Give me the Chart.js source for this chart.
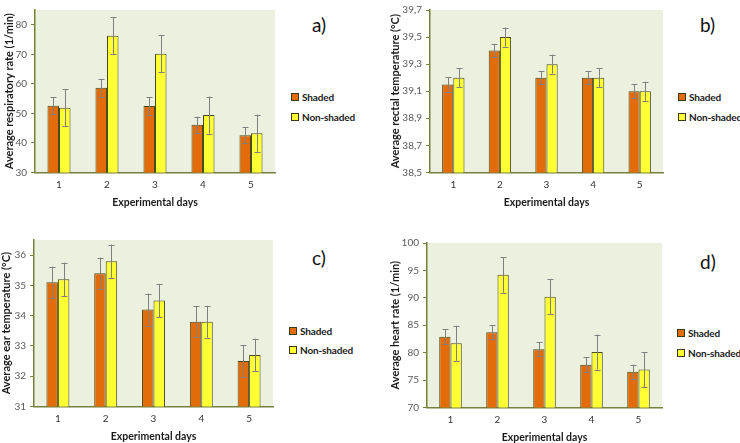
<!DOCTYPE html>
<html>
<head>
<meta charset="utf-8">
<script src="https://cdn.jsdelivr.net/npm/chart.js@4"></script>
<style>
  body { margin: 0; width: 740px; height: 443px; background: #fff; position: relative; overflow: hidden; font-family: Lato, "Liberation Sans", sans-serif; }
  canvas { position: absolute; }
  .legend { position: absolute; font-size: 10px; font-weight: bold; color: #1a1a1a; letter-spacing: -0.15px; }
  .legend div { position: absolute; white-space: nowrap; line-height: 14px; }
  .legend span { display: inline-block; width: 6px; height: 6px; border: 1px solid #3a3a1a; margin-right: 3px; vertical-align: 0px; }
  .tag { position: absolute; font-size: 19px; color: #111; line-height: 20px; }
</style>
</head>
<body>
<canvas id="chartA" width="280" height="211" style="left:0px;top:0px"></canvas>
<canvas id="chartB" width="283" height="211" style="left:385px;top:0px"></canvas>
<canvas id="chartC" width="278" height="220" style="left:0px;top:225px"></canvas>
<canvas id="chartD" width="282" height="222" style="left:385px;top:224px"></canvas>

<div class="tag" style="left:312px;top:15px">a)</div>
<div class="tag" style="left:700px;top:15px">b)</div>
<div class="tag" style="left:312px;top:248px">c)</div>
<div class="tag" style="left:700px;top:252px">d)</div>

<div class="legend" style="left:291px;top:90px"><div style="top:0"><span style="background:#e36c0a"></span>Shaded</div><div style="top:20px"><span style="background:#ffff33"></span>Non-shaded</div></div>
<div class="legend" style="left:678px;top:90px"><div style="top:0"><span style="background:#e36c0a"></span>Shaded</div><div style="top:20px"><span style="background:#ffff33"></span>Non-shaded</div></div>
<div class="legend" style="left:289px;top:324px"><div style="top:0"><span style="background:#e36c0a"></span>Shaded</div><div style="top:19px"><span style="background:#ffff33"></span>Non-shaded</div></div>
<div class="legend" style="left:677px;top:326px"><div style="top:0"><span style="background:#e36c0a"></span>Shaded</div><div style="top:20px"><span style="background:#ffff33"></span>Non-shaded</div></div>

<script>
// Data
const days = ['1', '2', '3', '4', '5'];

const respShaded = [52.6, 58.7, 52.5, 46.1, 42.6];
const respShadedErr = [2.9, 3.0, 2.9, 2.8, 2.8];
const respNonShaded = [51.9, 76.3, 70.2, 49.4, 43.3];
const respNonShadedErr = [6.3, 6.3, 6.3, 6.3, 6.3];

const rectalShaded = [39.15, 39.40, 39.20, 39.20, 39.10];
const rectalShadedErr = [0.055, 0.05, 0.05, 0.05, 0.05];
const rectalNonShaded = [39.20, 39.50, 39.30, 39.20, 39.10];
const rectalNonShadedErr = [0.07, 0.07, 0.07, 0.07, 0.07];

const earShaded = [35.1, 35.4, 34.2, 33.8, 32.5];
const earShadedErr = [0.52, 0.52, 0.53, 0.52, 0.52];
const earNonShaded = [35.2, 35.8, 34.5, 33.8, 32.7];
const earNonShadedErr = [0.55, 0.55, 0.55, 0.53, 0.54];

const heartShaded = [82.9, 83.7, 80.6, 77.8, 76.5];
const heartShadedErr = [1.35, 1.3, 1.3, 1.35, 1.3];
const heartNonShaded = [81.7, 94.2, 90.2, 80.1, 76.9];
const heartNonShadedErr = [3.2, 3.25, 3.2, 3.2, 3.2];

const axisColor = '#77803f';
const tickColor = '#595959';
const fontFamily = 'Lato, "Liberation Sans", sans-serif';

// plot area fill
const plotBg = {
    id: 'plotBg',
    beforeDraw(chart) {
        const a = chart.chartArea;
        const ctx = chart.ctx;
        ctx.save();
        ctx.fillStyle = '#ebf1de';
        ctx.fillRect(a.left, a.top, a.right - a.left, a.bottom - a.top);
        ctx.restore();
    }
};

// error bars
const errorBars = {
    id: 'errorBars',
    afterDatasetsDraw(chart) {
        const ctx = chart.ctx;
        const y = chart.scales.y;
        ctx.save();
        ctx.strokeStyle = '#808080';
        ctx.lineWidth = 1;
        chart.data.datasets.forEach((ds, i) => {
            const meta = chart.getDatasetMeta(i);
            meta.data.forEach((bar, j) => {
                const v = ds.data[j], e = ds.errors[j];
                const top = y.getPixelForValue(v + e);
                const bot = y.getPixelForValue(v - e);
                const x = Math.round(bar.x) + 0.5;
                ctx.beginPath();
                ctx.moveTo(x, top); ctx.lineTo(x, bot);
                ctx.moveTo(x - 3, Math.round(top) + 0.5); ctx.lineTo(x + 3, Math.round(top) + 0.5);
                ctx.moveTo(x - 3, Math.round(bot) + 0.5); ctx.lineTo(x + 3, Math.round(bot) + 0.5);
                ctx.stroke();
            });
        });
        ctx.restore();
    }
};

function makeChart(id, opts) {
    return new Chart(document.getElementById(id), {
        type: 'bar',
        data: {
            labels: days,
            datasets: [{
                label: 'Shaded',
                data: opts.shaded,
                errors: opts.shadedErr,
                backgroundColor: '#e36c0a',
                borderColor: '#4a4a1e',
                borderWidth: 1
            }, {
                label: 'Non-shaded',
                data: opts.nonShaded,
                errors: opts.nonShadedErr,
                backgroundColor: '#ffff33',
                borderColor: '#4a4a1e',
                borderWidth: 1
            }]
        },
        options: {
            responsive: false,
            animation: false,
            devicePixelRatio: 1,
            layout: { padding: { top: opts.padTop, right: 5, left: 0, bottom: 0 } },
            plugins: { legend: { display: false }, tooltip: { enabled: false } },
            datasets: { bar: { categoryPercentage: 0.48, barPercentage: 1 } },
            scales: {
                x: {
                    grid: { display: false, drawTicks: false },
                    border: { display: true, color: axisColor, width: 1.5 },
                    ticks: { color: '#333', font: { family: fontFamily, size: 10 }, padding: 6 },
                    title: { display: true, text: 'Experimental days', color: '#1a1a1a', font: { family: fontFamily, size: 10.5, weight: 'bold' }, padding: { top: 0, bottom: 2 } }
                },
                y: {
                    min: opts.min,
                    max: opts.max,
                    afterFit(scale) { scale.width = opts.yw; },
                    grid: { drawOnChartArea: false, drawTicks: true, tickLength: 4, color: axisColor },
                    border: { display: true, color: axisColor, width: 1.5 },
                    ticks: {
                        stepSize: opts.step,
                        includeBounds: false,
                        color: tickColor,
                        padding: 4,
                        font: { family: fontFamily, size: 10 },
                        callback: opts.fmt
                    },
                    title: { display: true, text: opts.title, color: '#1a1a1a', font: { family: fontFamily, size: 11, weight: 'bold' }, padding: { top: opts.titlePad, bottom: 2 } }
                }
            }
        },
        plugins: [plotBg, errorBars]
    });
}

const intFmt = v => Math.round(v).toString();
const commaFmt = v => v.toFixed(1).replace('.', ',');

makeChart('chartA', {
    shaded: respShaded, shadedErr: respShadedErr, nonShaded: respNonShaded, nonShadedErr: respNonShadedErr,
    min: 30, max: 85, step: 10, fmt: intFmt, yw: 35, padTop: 6, titlePad: 3,
    title: 'Average respiratory rate (1/min)'
});
makeChart('chartB', {
    shaded: rectalShaded, shadedErr: rectalShadedErr, nonShaded: rectalNonShaded, nonShadedErr: rectalNonShadedErr,
    min: 38.5, max: 39.7, step: 0.2, fmt: commaFmt, yw: 45, padTop: 5, titlePad: 4,
    title: 'Average rectal temperature (°C)'
});
makeChart('chartC', {
    shaded: earShaded, shadedErr: earShadedErr, nonShaded: earNonShaded, nonShadedErr: earNonShadedErr,
    min: 31, max: 36.5, step: 1, fmt: intFmt, yw: 34, padTop: 15, titlePad: 0,
    title: 'Average ear temperature (°C)'
});
makeChart('chartD', {
    shaded: heartShaded, shadedErr: heartShadedErr, nonShaded: heartNonShaded, nonShadedErr: heartNonShadedErr,
    min: 70, max: 100, step: 5, fmt: intFmt, yw: 42, padTop: 19, titlePad: 4,
    title: 'Average heart rate (1/min)'
});
</script>
</body>
</html>
